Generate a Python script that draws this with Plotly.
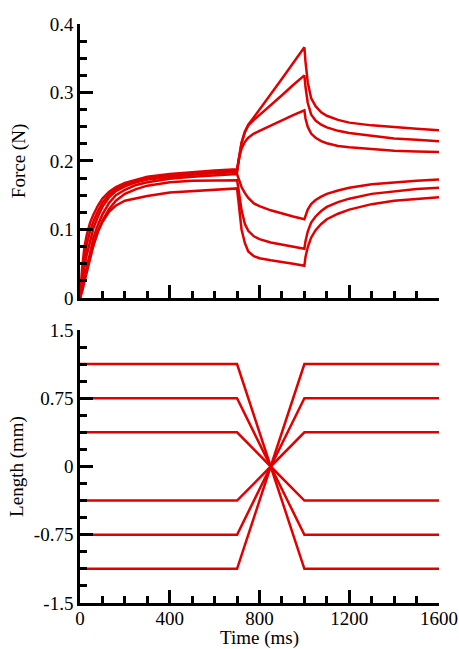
import plotly.graph_objects as go

# ---- data ----
time_ms = [0, 10, 20, 30, 45, 60, 80, 100, 130, 160, 200, 250, 300, 400, 500, 600, 700,
           705, 710, 720, 735, 750, 775, 800, 850, 900, 950, 1000,
           1005, 1015, 1030, 1050, 1075, 1100, 1150, 1200, 1300, 1400, 1500, 1600]

force_stretch_large = [0, 0.045, 0.075, 0.092, 0.110, 0.122, 0.135, 0.145, 0.155, 0.162, 0.168, 0.173, 0.177, 0.181, 0.184, 0.186, 0.188,
                       0.198, 0.210, 0.227, 0.243, 0.253, 0.264, 0.275, 0.297, 0.320, 0.343, 0.366,
                       0.345, 0.315, 0.292, 0.280, 0.271, 0.266, 0.260, 0.256, 0.252, 0.249, 0.247, 0.245]
force_stretch_mid = [0, 0.035, 0.060, 0.078, 0.098, 0.112, 0.127, 0.139, 0.151, 0.159, 0.166, 0.171, 0.175, 0.179, 0.182, 0.184, 0.186,
                     0.197, 0.209, 0.226, 0.242, 0.252, 0.260, 0.267, 0.282, 0.296, 0.311, 0.325,
                     0.308, 0.285, 0.268, 0.259, 0.253, 0.249, 0.244, 0.241, 0.237, 0.233, 0.231, 0.229]
force_stretch_small = [0, 0.025, 0.045, 0.063, 0.085, 0.102, 0.119, 0.133, 0.147, 0.156, 0.163, 0.169, 0.173, 0.177, 0.180, 0.182, 0.184,
                       0.195, 0.206, 0.218, 0.228, 0.234, 0.240, 0.244, 0.252, 0.259, 0.267, 0.274,
                       0.262, 0.250, 0.240, 0.234, 0.229, 0.226, 0.222, 0.220, 0.217, 0.215, 0.214, 0.213]
force_short_small = [0, 0.015, 0.032, 0.048, 0.070, 0.088, 0.107, 0.122, 0.139, 0.150, 0.158, 0.165, 0.169, 0.174, 0.177, 0.179, 0.181,
                     0.176, 0.170, 0.162, 0.153, 0.146, 0.138, 0.134, 0.128, 0.123, 0.119, 0.115,
                     0.121, 0.129, 0.137, 0.143, 0.148, 0.152, 0.157, 0.161, 0.166, 0.169, 0.171, 0.173]
force_short_mid = [0, 0.010, 0.024, 0.038, 0.058, 0.077, 0.097, 0.113, 0.130, 0.142, 0.152, 0.159, 0.164, 0.169, 0.171, 0.172, 0.172,
                   0.162, 0.148, 0.128, 0.108, 0.098, 0.090, 0.086, 0.081, 0.078, 0.075, 0.072,
                   0.083, 0.097, 0.110, 0.119, 0.127, 0.133, 0.140, 0.145, 0.152, 0.156, 0.159, 0.161]
force_short_large = [0, 0.012, 0.026, 0.040, 0.060, 0.078, 0.097, 0.111, 0.126, 0.135, 0.142, 0.146, 0.149, 0.154, 0.156, 0.158, 0.160,
                     0.145, 0.126, 0.100, 0.080, 0.068, 0.061, 0.058, 0.055, 0.053, 0.050, 0.047,
                     0.060, 0.074, 0.088, 0.099, 0.108, 0.115, 0.123, 0.129, 0.137, 0.142, 0.145, 0.147]

force_series = [force_stretch_large, force_stretch_mid, force_stretch_small,
                force_short_small, force_short_mid, force_short_large]

length_time = [0, 700, 850, 1000, 1600]
length_series = [
    [1.125, 1.125, 0, -1.125, -1.125],
    [0.75, 0.75, 0, -0.75, -0.75],
    [0.375, 0.375, 0, -0.375, -0.375],
    [-0.375, -0.375, 0, 0.375, 0.375],
    [-0.75, -0.75, 0, 0.75, 0.75],
    [-1.125, -1.125, 0, 1.125, 1.125],
]

x_ticks = [0, 400, 800, 1200, 1600]
force_ticks = [0, 0.1, 0.2, 0.3, 0.4]
force_ticktext = ["0", "0.1", "0.2", "0.3", "0.4"]
length_ticks = [-1.5, -0.75, 0, 0.75, 1.5]
length_ticktext = ["-1.5", "-0.75", "0", "0.75", "1.5"]

RED = "rgb(225,0,0)"
FONT = "Liberation Serif"
FS = 19

fig = go.Figure()
for f in force_series:
    fig.add_trace(go.Scatter(x=time_ms, y=f, mode="lines", line=dict(color=RED, width=2.5),
                             xaxis="x", yaxis="y", showlegend=False))
for L in length_series:
    fig.add_trace(go.Scatter(x=length_time, y=L, mode="lines", line=dict(color=RED, width=2.5),
                             xaxis="x2", yaxis="y2", showlegend=False))

axis_common = dict(showline=True, linecolor="black", linewidth=2.5, ticks="inside",
                   ticklen=13, tickwidth=2.5, tickcolor="black", showgrid=False, zeroline=False,
                   tickfont=dict(family=FONT, size=FS, color="black"), layer="above traces",
                   automargin=False)

def minor(d):
    return dict(dtick=d, tick0=0, ticklen=7, tickwidth=2.5, tickcolor="black", ticks="inside")

fig.update_layout(
    width=459, height=649,
    margin=dict(l=80, r=20, t=24, b=46),
    paper_bgcolor="white", plot_bgcolor="white",
    font=dict(family=FONT, size=FS, color="black"),
    xaxis=dict(domain=[0, 1], range=[0, 1600], anchor="y", tickvals=x_ticks, showticklabels=False,
               minor=minor(100), **axis_common),
    yaxis=dict(domain=[0.5268, 1], range=[0, 0.4], anchor="x", tickvals=force_ticks, ticktext=force_ticktext,
               minor=minor(0.025),
               title=dict(text="Force (N)", font=dict(family=FONT, size=FS), standoff=20),
               **axis_common),
    xaxis2=dict(domain=[0, 1], range=[0, 1600], anchor="y2", tickvals=x_ticks,
                minor=minor(100), ticklabelstandoff=-4,
                title=dict(text="Time (ms)", font=dict(family=FONT, size=FS), standoff=11),
                **axis_common),
    yaxis2=dict(domain=[0, 0.4715], range=[-1.5, 1.5], anchor="x2", tickvals=length_ticks, ticktext=length_ticktext,
                minor=minor(0.1875),
                title=dict(text="Length (mm)", font=dict(family=FONT, size=FS), standoff=6),
                **axis_common),
)

fig.write_html("out.html", config={"displayModeBar": False},
               post_script="document.body.style.margin='0';document.body.style.overflow='hidden';")
